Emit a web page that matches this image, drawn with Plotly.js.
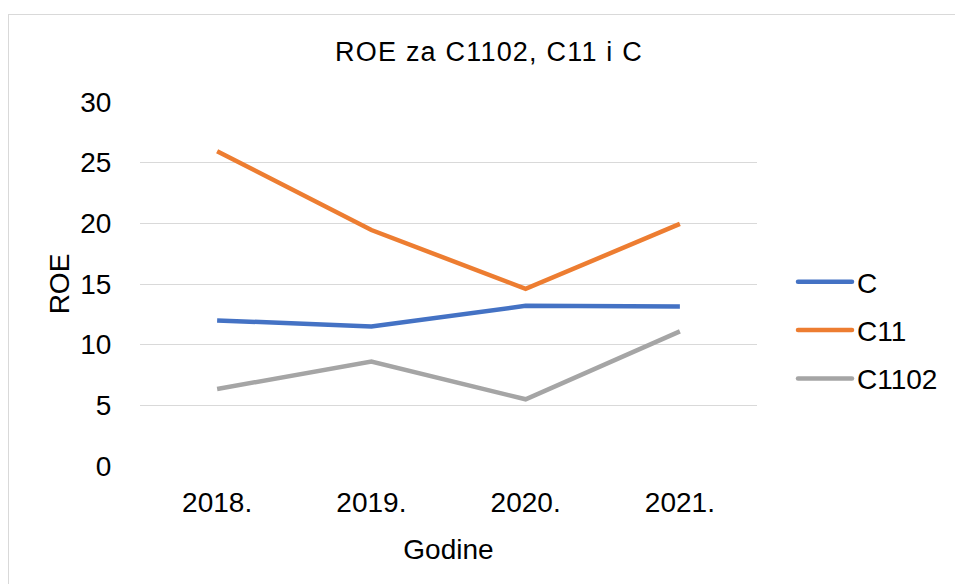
<!DOCTYPE html>
<html>
<head>
<meta charset="utf-8">
<script src="https://cdn.plot.ly/plotly-3.0.1.min.js"></script>
<style>
html,body{margin:0;padding:0;background:#fff;overflow:hidden;}
#chart{width:955px;height:584px;position:absolute;left:0;top:0;}
#frame{position:absolute;left:8px;top:14px;width:1000px;height:700px;border:1px solid #d9d9d9;pointer-events:none;}
#chart .gtitle{letter-spacing:1.2px;}
#chart .legendlines path{stroke-linecap:round;}
</style>
</head>
<body>
<div id="chart"></div>
<div id="frame"></div>
<script>
const years = ["2018.", "2019.", "2020.", "2021."];
const seriesNames = ["C", "C11", "C1102"];
const valuesC = [12.0, 11.5, 13.2, 13.15];
const valuesC11 = [25.95, 19.45, 14.6, 19.95];
const valuesC1102 = [6.35, 8.6, 5.5, 11.1];
const colors = ["#4472C4", "#ED7D31", "#A5A5A5"];
const yTicks = [0, 5, 10, 15, 20, 25, 30];

const allValues = [valuesC, valuesC11, valuesC1102];
const traces = allValues.map((vals, i) => ({
  type: 'scatter',
  mode: 'lines',
  x: years,
  y: vals,
  name: seriesNames[i],
  legendgroup: 'g' + i,
  line: {color: colors[i], width: 4.5},
  hoverinfo: 'x+y+name'
}));

const font = {family: '"Liberation Sans", Arial, sans-serif', color: '#000000'};

const layout = {
  width: 955, height: 584,
  margin: {l: 140, r: 198, t: 102, b: 118, pad: 0},
  paper_bgcolor: '#ffffff', plot_bgcolor: '#ffffff',
  font: Object.assign({size: 28}, font),
  title: {
    text: 'ROE za C1102, C11 i C',
    font: Object.assign({size: 27}, font),
    x: 489/955, xref: 'container', xanchor: 'center',
    y: 1 - 52/584, yref: 'container', yanchor: 'middle'
  },
  xaxis: {
    type: 'category',
    range: [-0.5, 3.5],
    showgrid: false, zeroline: false, showline: false,
    ticks: 'outside', ticklen: 11, tickcolor: 'rgba(0,0,0,0)',
    tickfont: Object.assign({size: 28}, font),
    title: {text: 'Godine', font: Object.assign({size: 28}, font), standoff: 22},
    fixedrange: true
  },
  yaxis: {
    range: [0, 30],
    tickvals: yTicks,
    showgrid: true, gridcolor: '#d9d9d9', gridwidth: 1,
    zeroline: false, showline: false,
    ticks: 'outside', ticklen: 22, tickcolor: 'rgba(0,0,0,0)',
    tickfont: Object.assign({size: 28}, font),
    title: {text: 'ROE', font: Object.assign({size: 28}, font), standoff: 2},
    fixedrange: true
  },
  showlegend: true,
  legend: {
    x: 793/955, xref: 'container', xanchor: 'left',
    y: 1 - 257/584, yref: 'container', yanchor: 'top',
    font: Object.assign({size: 28}, font),
    itemwidth: 54,
    tracegroupgap: 9,
    bgcolor: 'rgba(0,0,0,0)'
  }
};

Plotly.newPlot('chart', traces, layout, {displayModeBar: false, staticPlot: true});
</script>
</body>
</html>
